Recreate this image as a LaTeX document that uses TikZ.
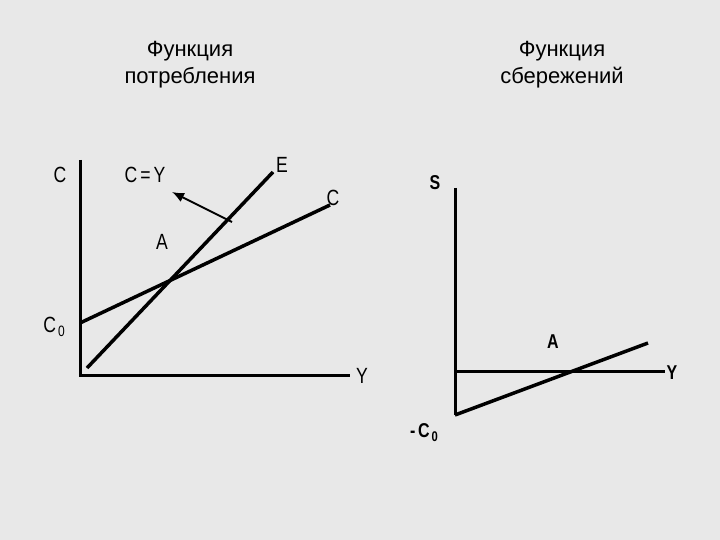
\documentclass[tikz,border=0pt]{standalone}
\usepackage{fontspec}
\setmainfont{Liberation Sans}
\usetikzlibrary{arrows.meta}
\begin{document}
\begin{tikzpicture}[x=1pt,y=-1pt,
  ax/.style={line width=3pt},
  ln/.style={line width=3.5pt},
  lbl/.style={font=\fontsize{22}{22}\selectfont, xscale=0.8},
  ttl/.style={font=\fontsize{22}{27}\selectfont, align=center}]
\fill[gray!18] (0,0) rectangle (720,540);
\useasboundingbox (0,0) rectangle (720,540);
\node[ttl] (t1) at (190,65) {Функция\\потребления};
\node[ttl] (t2) at (562,65) {Функция\\сбережений};
% left
\coordinate (o1) at (80,375);
\coordinate (cy) at (80,160);
\coordinate (cx) at (350,375);
\draw[ax] (cy) -- (o1) -- (cx);
\coordinate (e0) at (87,368); \coordinate (e1) at (273,172);
\draw[ln] (e0) -- (e1);
\coordinate (c0) at (80,323); \coordinate (c1) at (330,205);
\draw[ln] (c0) -- (c1);
\coordinate (ar0) at (232,222); \coordinate (ar1) at (172,192);
\draw[line width=2pt,-{Latex[length=12pt,width=10pt]}] (ar0) -- (ar1);
\node[lbl] (lc) at (60,175) {C};
\node[lbl] (lcy) at (145,175) {C\,=\,Y};
\node[lbl] (le) at (282,165) {E};
\node[lbl] (lcc) at (333,198) {C};
\node[lbl] (la) at (162,242) {A};
\node[lbl] (lc0) at (54,327) {C\raisebox{-4pt}{\fontsize{15}{15}\selectfont\,0}};
\node[lbl] (ly) at (362,376) {Y};
% right
\coordinate (r0) at (455,415);
\coordinate (ry) at (455,188);
\draw[ax] (ry) -- (r0);
\coordinate (h0) at (455,371); \coordinate (h1) at (665,371);
\draw[ax] (h0) -- (h1);
\coordinate (s0) at (455,415); \coordinate (s1) at (648,343);
\draw[ln] (s0) -- (s1);
\node[lbl,font=\bfseries\fontsize{20}{20}\selectfont] (ls) at (435,183) {S};
\node[lbl,font=\bfseries\fontsize{20}{20}\selectfont] (lra) at (553,342) {A};
\node[lbl,font=\bfseries\fontsize{20}{20}\selectfont] (lry) at (672,373) {Y};
\node[lbl,font=\bfseries\fontsize{20}{20}\selectfont] (lmc) at (424,433) {-\,C\raisebox{-4pt}{\fontsize{14}{14}\selectfont\,0}};
\end{tikzpicture}
\end{document}
